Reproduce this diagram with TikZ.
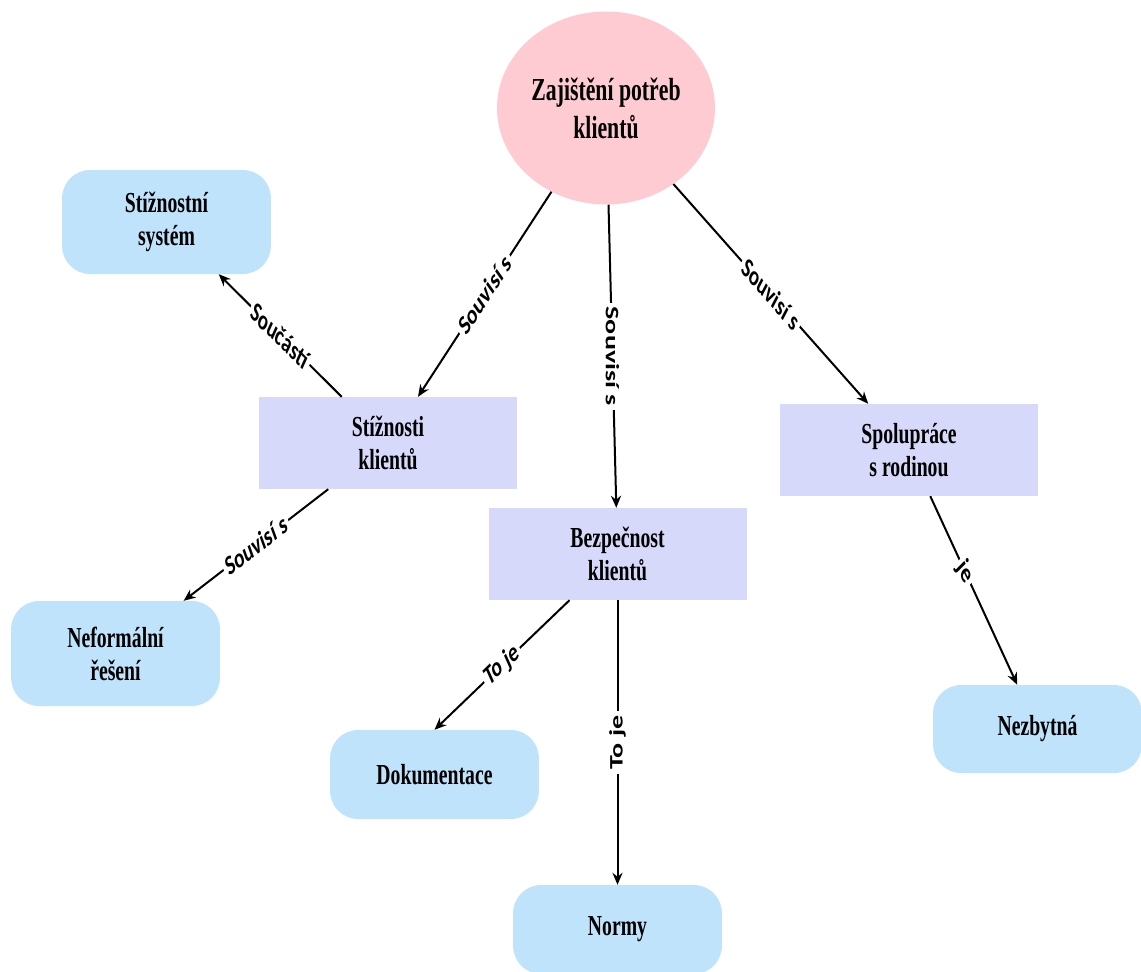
\documentclass[tikz,border=0pt]{standalone}
\usepackage{fontspec}
\usetikzlibrary{shapes.geometric,arrows.meta}
\newfontfamily\boxfont{Liberation Serif}
\newfontfamily\lblfont{Carlito}
\definecolor{pinkfill}{HTML}{FFCBD3}
\definecolor{bluefill}{HTML}{BFE3FB}
\definecolor{lavfill}{HTML}{D7D9FB}
\begin{document}
\begin{tikzpicture}[x=1.470588pt, y=-1pt, xscale=0.68, transform shape,
  ellnode/.style={ellipse, fill=pinkfill, minimum width=320.6pt, minimum height=193pt, inner sep=0pt, align=center, font=\boxfont\bfseries\fontsize{32}{38}\selectfont},
  rbox/.style={rectangle, rounded corners=28pt, fill=bluefill, minimum width=307pt, align=center, font=\boxfont\bfseries\fontsize{29}{33}\selectfont},
  lbox/.style={rectangle, fill=lavfill, minimum width=379.4pt, minimum height=92pt, align=center, font=\boxfont\bfseries\fontsize{29}{33}\selectfont},
  conn/.style={line width=2pt, -{Stealth[length=12pt,width=10pt]}},
  lbl/.style={fill=white, inner sep=4pt, font=\lblfont\bfseries\fontsize{28}{32}\selectfont}
]
\useasboundingbox (0,0) rectangle (1141,971);

\node[ellnode] (goal) at (606,108) {Zajištění potřeb\\klientů};
\node[rbox, minimum height=104pt] (sys) at (166.5,222) {Stížnostní\\systém};
\node[lbox] (stiz) at (388,443) {Stížnosti\\klientů};
\node[lbox] (bez) at (617.5,554) {Bezpečnost\\klientů};
\node[lbox] (spol) at (909,450) {Spolupráce\\s rodinou};
\node[rbox, minimum height=105pt] (nef) at (115.5,653.5) {Neformální\\řešení};
\node[rbox, minimum height=89pt] (dok) at (434.5,774.5) {Dokumentace};
\node[rbox, minimum height=89pt] (norm) at (617.5,929.5) {Normy};
\node[rbox, minimum height=88pt] (nez) at (1037.5,729) {Nezbytná};

\draw[conn] (goal) -- node[lbl, rotate=46.2] {Souvisí s} (stiz);
\draw[conn] (goal) -- node[lbl, rotate=-90] {Souvisí s} (bez);
\draw[conn] (goal) -- node[lbl, rotate=-37.7] {Souvisí s} (spol);
\draw[conn] (stiz) -- node[lbl, rotate=-33.8] {Součástí} (sys);
\draw[conn] (stiz) -- node[lbl, rotate=28.1] {Souvisí s} (nef);
\draw[conn] (bez) -- node[lbl, rotate=33.4] {To je} (dok.north);
\draw[conn] (bez) -- node[lbl, rotate=90] {To je} (norm);
\draw[conn] (spol) -- node[lbl, pos=0.4, rotate=-55.5] {je} (nez);
\end{tikzpicture}
\end{document}
